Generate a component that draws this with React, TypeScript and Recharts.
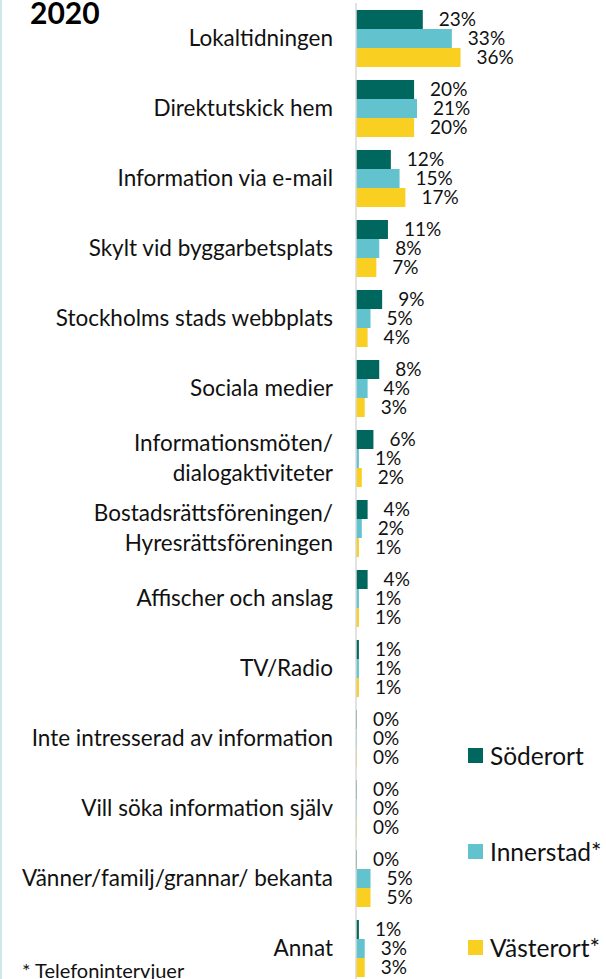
import React from "react";
import { Bar, BarChart, LabelList, XAxis, YAxis } from "recharts";

const categories = [
  "Lokaltidningen",
  "Direktutskick hem",
  "Information via e-mail",
  "Skylt vid byggarbetsplats",
  "Stockholms stads webbplats",
  "Sociala medier",
  "Informationsmöten/\ndialogaktiviteter",
  "Bostadsrättsföreningen/\nHyresrättsföreningen",
  "Affischer och anslag",
  "TV/Radio",
  "Inte intresserad av information",
  "Vill söka information själv",
  "Vänner/familj/grannar/ bekanta",
  "Annat",
];

const soderort = [23, 20, 12, 11, 9, 8, 6, 4, 4, 1, 0, 0, 0, 1];
const innerstad = [33, 21, 15, 8, 5, 4, 1, 2, 1, 1, 0, 0, 5, 3];
const vasterort = [36, 20, 17, 7, 4, 3, 2, 1, 1, 1, 0, 0, 5, 3];

const seriesNames = ["Söderort", "Innerstad*", "Västerort*"];
const seriesColors = ["#00675f", "#62c3cf", "#f9cf22"];

const FONT = "Lato, 'Open Sans', sans-serif";

const data = categories.map((name, i) => ({
  name,
  soderort: soderort[i],
  innerstad: innerstad[i],
  vasterort: vasterort[i],
}));

const CategoryTick = (props: any) => {
  const { x, y, payload } = props;
  const lines = String(payload.value).split("\n");
  const fs = 22.5;
  const gap = 30;
  const first = -((lines.length - 1) * gap) / 2;
  return (
    <g>
      {lines.map((line, i) => (
        <text
          key={i}
          x={x}
          y={y + first + i * gap + fs * 0.36}
          textAnchor="end"
          fontSize={fs}
          fontFamily={FONT}
          fill="#111"
        >
          {line}
        </text>
      ))}
    </g>
  );
};

// thin sliver for 0 values so their labels still get drawn
const minSize = (v: any) => (v === 0 ? 1 : 0);
const pct = (v: any) => `${v}%`;

export default function App() {
  return (
    <div
      style={{
        position: "absolute",
        left: 0,
        top: 0,
        width: 606,
        height: 979,
        overflow: "hidden",
        background: "#fff",
        borderLeft: "2px solid #cde9ea",
        boxSizing: "border-box",
      }}
    >
      <div
        style={{
          position: "absolute",
          left: 28,
          top: -6,
          fontFamily: FONT,
          fontWeight: 700,
          fontSize: 30,
          color: "#000",
        }}
      >
        2020
      </div>
      <div
        style={{
          position: "absolute",
          left: 20,
          top: 958,
          fontFamily: FONT,
          fontSize: 20,
          color: "#111",
          whiteSpace: "nowrap",
        }}
      >
        * Telefonintervjuer
      </div>
      <div style={{ position: "absolute", left: -2, top: 0 }}>
        <BarChart
          width={606}
          height={990}
          data={data}
          layout="vertical"
          barGap={0}
          barSize={19}
          margin={{ top: 3, right: 6, bottom: 7, left: 0 }}
        >
          <XAxis type="number" domain={[0, 84]} hide />
          <YAxis
            type="category"
            dataKey="name"
            width={356}
            tickLine={false}
            tickSize={0}
            tickMargin={23}
            axisLine={{ stroke: "#d9d9d9", strokeWidth: 1.5 }}
            tick={<CategoryTick />}
            interval={0}
          />
          <Bar dataKey="soderort" name={seriesNames[0]} fill={seriesColors[0]} minPointSize={minSize} isAnimationActive={false}>
            <LabelList dataKey="soderort" position="right" offset={16} formatter={pct} fontSize={19} fontFamily={FONT} fill="#111" />
          </Bar>
          <Bar dataKey="innerstad" name={seriesNames[1]} fill={seriesColors[1]} minPointSize={minSize} isAnimationActive={false}>
            <LabelList dataKey="innerstad" position="right" offset={16} formatter={pct} fontSize={19} fontFamily={FONT} fill="#111" />
          </Bar>
          <Bar dataKey="vasterort" name={seriesNames[2]} fill={seriesColors[2]} minPointSize={minSize} isAnimationActive={false}>
            <LabelList dataKey="vasterort" position="right" offset={16} formatter={pct} fontSize={19} fontFamily={FONT} fill="#111" />
          </Bar>
        </BarChart>
      </div>
      <div style={{ position: "absolute", left: 466, top: 748, fontFamily: FONT }}>
        {seriesNames.map((n, i) => (
          <div
            key={n}
            style={{ display: "flex", alignItems: "center", height: 15, marginBottom: 81 }}
          >
            <span style={{ width: 15, height: 15, background: seriesColors[i], display: "inline-block" }} />
            <span style={{ fontSize: 24.5, marginLeft: 7, color: "#111", lineHeight: "15px", whiteSpace: "nowrap" }}>{n}</span>
          </div>
        ))}
      </div>
    </div>
  );
}
